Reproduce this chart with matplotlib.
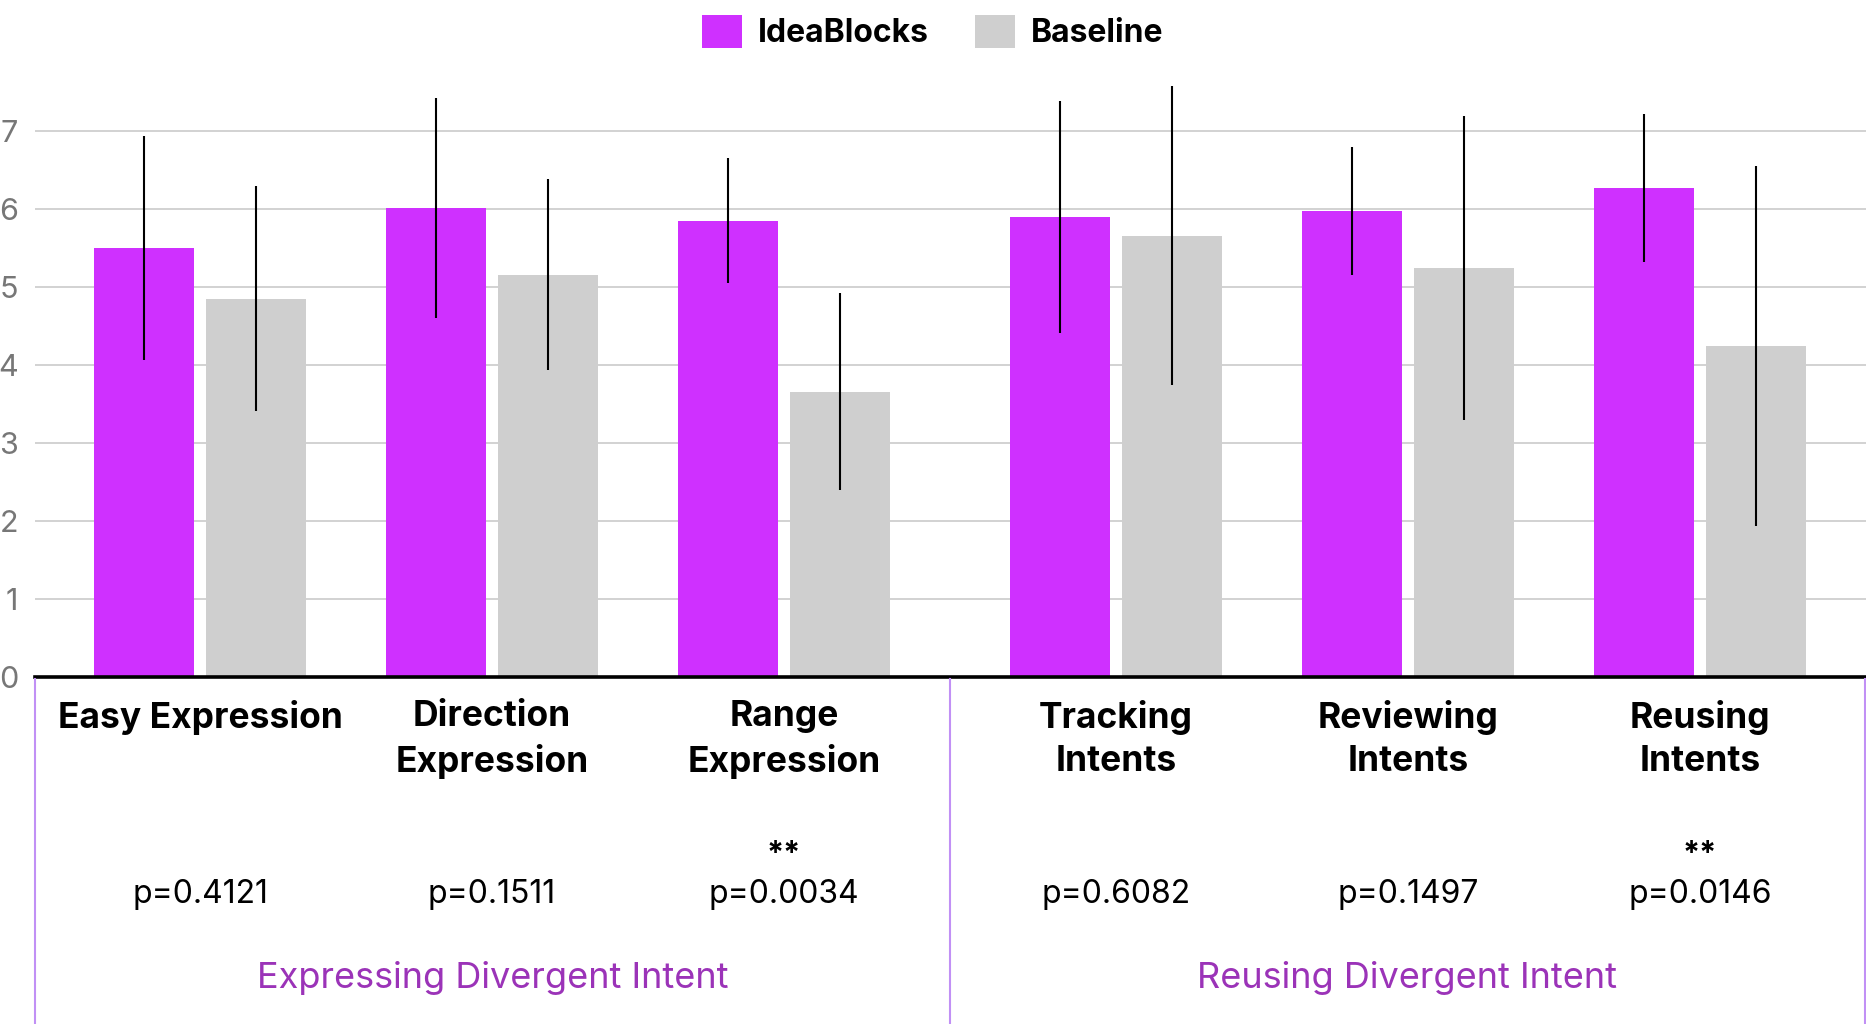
import numpy as np
import matplotlib
matplotlib.use('Agg')
import matplotlib.pyplot as plt
from matplotlib.patches import Patch
from matplotlib.lines import Line2D
from matplotlib.transforms import blended_transform_factory

plt.rcParams['font.family'] = ['Inter', 'DejaVu Sans']

#============================================================================#
categories = ['Easy Expression', 'Direction\nExpression', 'Range\nExpression',
              'Tracking\nIntents', 'Reviewing\nIntents', 'Reusing\nIntents']
ideablocks_mean = [5.50, 6.01, 5.85, 5.90, 5.98, 6.27]
ideablocks_sd = [1.43, 1.41, 0.80, 1.49, 0.82, 0.95]
baseline_mean = [4.85, 5.16, 3.66, 5.66, 5.24, 4.24]
baseline_sd = [1.44, 1.23, 1.26, 1.92, 1.95, 2.31]
p_values = ['p=0.4121', 'p=0.1511', 'p=0.0034', 'p=0.6082', 'p=0.1497', 'p=0.0146']
sig_marks = ['', '', '**', '', '', '**']
sections = ['Expressing Divergent Intent', 'Reusing Divergent Intent']
section_sizes = [3, 3]
series = ['IdeaBlocks', 'Baseline']
#============================================================================#

PURPLE = '#cf30ff'
GREY = '#cfcfcf'
LINE_PURPLE = '#c190f5'
SECTION_TEXT = '#9b33b8'

W, H = 1866, 1024
fig = plt.figure(figsize=(W / 100, H / 100), dpi=100)

# axes: zero line at y=677px, 78px per unit
ymax = 7.8
ax = fig.add_axes([35 / W, (H - 677) / H, 1 - 35 / W, 78 * ymax / H])

# group positions, with an extra gap between the two sections
extra_gap = 40 / 292
x = []
start = 0
for k, n in enumerate(section_sizes):
    for i in range(n):
        x.append(start + i + k * extra_gap)
    start += n
x = np.array(x)

bw = 100 / 292
off = 56 / 292
err_kw = dict(ecolor='black', elinewidth=1.5, capsize=0)
b1 = ax.bar(x - off, ideablocks_mean, bw, color=PURPLE, zorder=2)
b2 = ax.bar(x + off, baseline_mean, bw, color=GREY, zorder=2)
e1 = ax.errorbar(x - off, ideablocks_mean, yerr=ideablocks_sd, fmt='none', zorder=3, **err_kw)
e2 = ax.errorbar(x + off, baseline_mean, yerr=baseline_sd, fmt='none', zorder=3, **err_kw)
for e in (e1, e2):
    for c in e[2]:
        c.set_clip_on(False)

ax.set_xlim((35 - 200) / 292, (W - 200) / 292)
ax.set_ylim(0, ymax)
ax.set_yticks(range(0, 8))
ax.tick_params(axis='y', length=0, pad=12, labelsize=22, labelcolor='#777777')
ax.tick_params(axis='x', length=0, labelbottom=False)
ax.grid(axis='y', color='#c6c6c6', linewidth=1.1, zorder=0)
ax.set_axisbelow(True)
for s in ['top', 'right', 'left']:
    ax.spines[s].set_visible(False)
ax.spines['bottom'].set_linewidth(2.6)
ax.spines['bottom'].set_color('black')
ax.spines['bottom'].set_zorder(4)

# text below the axis: x in data units, y in figure fraction
tr = blended_transform_factory(ax.transData, fig.transFigure)
def fy(py):
    return 1 - py / H

for xi, lab, p, sig in zip(x, categories, p_values, sig_marks):
    ax.text(xi, fy(700), lab, transform=tr, ha='center', va='top',
            fontsize=25.5, fontweight='bold', linespacing=1.38)
    ax.text(xi, fy(894), p, transform=tr, ha='center', va='center', fontsize=23)
    if sig:
        ax.text(xi, fy(854), sig, transform=tr, ha='center', va='center',
                fontsize=22, fontweight='bold')

# section dividers and names
bounds = [(35 - 200) / 292]
idx = 0
for n in section_sizes[:-1]:
    idx += n
    bounds.append((x[idx - 1] + x[idx]) / 2)
bounds.append((1865 - 200) / 292)
for bx in bounds:
    fig.add_artist(Line2D([bx, bx], [fy(679), 0], transform=tr, color=LINE_PURPLE,
                          linewidth=1.5, clip_on=False))
for k, name in enumerate(sections):
    cx = (bounds[k] + bounds[k + 1]) / 2
    ax.text(cx, fy(978), name, transform=tr, ha='center', va='center',
            fontsize=26, color=SECTION_TEXT)

handles = [Patch(facecolor=PURPLE), Patch(facecolor=GREY)]
leg = fig.legend(handles, series, loc='center', bbox_to_anchor=(0.5, fy(32)), ncol=2,
                 frameon=False, handlelength=1.25, handleheight=1.25,
                 handletextpad=0.5, columnspacing=1.45,
                 prop={'size': 23, 'weight': 'bold'})

fig.savefig('out.png', dpi=100)
